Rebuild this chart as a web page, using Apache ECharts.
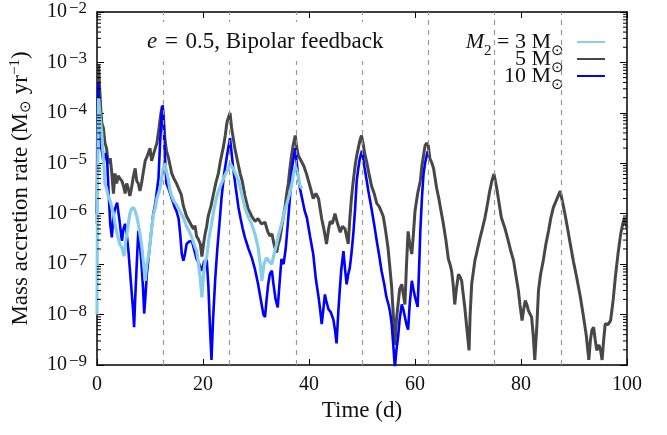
<!DOCTYPE html>
<html><head><meta charset="utf-8">
<script src="https://cdn.jsdelivr.net/npm/echarts@6/dist/echarts.min.js"></script>
<style>html,body{margin:0;padding:0;background:#fff}#c{width:667px;height:435px}</style>
</head><body><div id="c"></div>
<script>
// periastron passages (dashed lines)
const periastron = [12.5, 25, 37.5, 50, 62.5, 75, 87.5];
// log-axis minor tick values are multiples 2..9 of each decade
const decades = [-9, -8, -7, -6, -5, -4, -3];
const minorMult = [2, 3, 4, 5, 6, 7, 8, 9];
// series: [time (d), log10 accretion rate]
const m5 = [[0,-6.0],[0.15,-3.4],[0.3,-3.05],[0.5,-3.5],[0.7,-3.9],[0.9,-4.2],[1.2,-4.3],[1.5,-4.6],[1.8,-4.7],[2.1,-5.0],[2.5,-4.9],[2.8,-5.2],[3.1,-5.6],[3.4,-5.2],[3.7,-5.4],[4.0,-5.25],[4.3,-5.3],[4.7,-5.35],[5.0,-5.45],[5.3,-5.6],[5.6,-5.4],[5.9,-5.5],[6.2,-5.65],[6.5,-5.5],[6.8,-5.3],[7.2,-5.1],[7.5,-5.35],[7.8,-5.4],[8.1,-5.55],[8.4,-5.4],[8.7,-5.2],[9.1,-4.95],[9.5,-4.85],[10,-4.7],[10.3,-4.95],[10.6,-4.95],[11.0,-4.7],[11.3,-4.6],[11.7,-4.3],[12.0,-4.05],[12.3,-3.87],[12.5,-4.0],[12.8,-4.5],[13.1,-4.75],[13.5,-4.9],[13.8,-5.05],[14.1,-5.2],[14.5,-5.3],[15.0,-5.4],[15.4,-5.5],[15.9,-5.62],[16.3,-5.85],[16.9,-6.05],[17.4,-6.15],[17.9,-6.25],[18.2,-6.3],[18.5,-6.24],[18.8,-6.45],[19.1,-6.5],[19.5,-6.6],[19.8,-6.85],[20.1,-6.6],[20.4,-6.4],[20.7,-6.25],[21.0,-6.04],[21.5,-5.85],[22,-5.6],[22.4,-5.4],[22.9,-5.2],[23.3,-4.95],[23.8,-4.7],[24.2,-4.45],[24.5,-4.2],[24.8,-4.09],[25.1,-4.0],[25.4,-4.3],[25.7,-4.5],[26,-4.7],[26.5,-4.95],[27,-5.2],[27.4,-5.35],[27.9,-5.64],[28.5,-5.9],[29.2,-6.05],[29.8,-6.15],[30.4,-6.1],[31.0,-6.2],[31.7,-6.17],[32.2,-6.35],[32.6,-6.44],[33.0,-6.4],[33.5,-6.65],[33.9,-6.77],[34.2,-6.6],[34.5,-6.5],[34.8,-6.3],[35.1,-6.1],[35.5,-5.85],[35.8,-5.6],[36.1,-5.4],[36.4,-5.1],[36.7,-4.85],[37.0,-4.65],[37.4,-4.45],[37.7,-4.7],[38,-4.85],[38.5,-4.95],[39,-5.05],[39.5,-5.2],[39.9,-5.35],[40.3,-5.5],[40.8,-5.7],[41.3,-5.6],[41.8,-5.7],[42.1,-5.9],[42.4,-6.1],[42.8,-6.3],[43.3,-6.6],[43.7,-6.3],[44.0,-6.15],[44.4,-6.2],[44.9,-6.0],[45.4,-6.2],[45.9,-6.37],[46.3,-6.25],[46.8,-6.3],[47.1,-6.45],[47.4,-6.6],[47.7,-6.1],[48.0,-5.7],[48.3,-5.4],[48.7,-5.05],[49.0,-4.85],[49.3,-4.7],[49.6,-4.55],[49.9,-4.45],[50.2,-4.6],[50.5,-4.8],[50.9,-4.98],[51.3,-5.2],[51.8,-5.45],[52.3,-5.6],[52.8,-5.8],[53.2,-5.85],[53.7,-5.97],[54.0,-6.05],[54.4,-6.3],[54.9,-6.67],[55.2,-7.0],[55.6,-7.46],[55.9,-8.0],[56.2,-8.6],[56.5,-8.1],[56.8,-7.8],[57.1,-7.5],[57.5,-7.4],[57.8,-7.6],[58.1,-7.8],[58.4,-7.0],[58.7,-6.35],[59.0,-6.6],[59.4,-6.8],[59.7,-6.4],[60.0,-5.95],[60.5,-5.6],[61.0,-5.35],[61.3,-5.05],[61.6,-4.85],[61.9,-4.65],[62.2,-4.6],[62.5,-4.65],[62.8,-4.9],[63.2,-5.0],[63.5,-5.1],[63.8,-5.3],[64.1,-5.5],[64.5,-5.7],[64.8,-5.88],[65.3,-6.17],[65.8,-6.5],[66.3,-6.9],[66.6,-7.0],[66.9,-7.13],[67.2,-7.4],[67.5,-7.8],[67.8,-7.5],[68.2,-7.2],[68.5,-7.25],[68.8,-7.33],[69.1,-7.6],[69.4,-7.86],[69.8,-8.3],[70.2,-8.71],[70.4,-8.0],[70.7,-7.39],[71.3,-6.93],[71.8,-6.7],[72.3,-6.47],[72.7,-6.3],[73.2,-6.08],[73.6,-5.85],[74.1,-5.55],[74.5,-5.35],[74.9,-5.21],[75.4,-5.48],[75.8,-5.75],[76.3,-6.08],[77.0,-6.3],[77.6,-6.54],[78.1,-6.75],[78.6,-6.93],[79.0,-7.2],[79.5,-7.52],[79.8,-7.8],[80.2,-8.12],[80.5,-7.9],[80.8,-7.72],[81.1,-7.8],[81.4,-7.92],[82.0,-8.05],[82.3,-8.4],[82.6,-8.9],[83.0,-8.2],[83.3,-7.52],[83.7,-7.2],[84.2,-6.93],[84.7,-6.6],[85.2,-6.34],[85.6,-6.1],[86.1,-5.88],[86.8,-5.7],[87.4,-5.55],[87.8,-5.75],[88.3,-6.01],[88.8,-6.3],[89.3,-6.6],[89.9,-6.95],[90.5,-7.26],[91.2,-7.65],[91.8,-8.05],[92.3,-8.4],[92.8,-8.9],[93.1,-8.5],[93.4,-8.3],[93.7,-8.25],[94.0,-8.5],[94.3,-8.71],[94.7,-8.6],[95.0,-8.7],[95.3,-8.9],[95.6,-8.5],[95.9,-8.18],[96.4,-8.2],[96.9,-8.12],[97.4,-7.7],[97.8,-7.26],[98.3,-6.8],[98.8,-6.41],[99.2,-6.2],[99.5,-6.08],[99.8,-6.2],[100,-6.28]];
const m10 = [[0,-6.2],[0.1,-4.5],[0.25,-3.4],[0.45,-4.0],[0.6,-4.5],[0.9,-4.75],[1.25,-5.0],[1.6,-4.8],[1.9,-4.9],[2.2,-5.6],[2.5,-6.2],[2.8,-6.47],[3.1,-6.04],[3.4,-5.9],[3.8,-5.78],[4.2,-6.1],[4.7,-6.54],[5.0,-6.3],[5.3,-6.2],[5.6,-6.4],[5.9,-6.7],[6.2,-7.1],[6.5,-7.5],[6.8,-7.9],[7.0,-8.25],[7.2,-7.7],[7.5,-7.0],[7.8,-6.34],[8.1,-6.6],[8.4,-7.0],[8.7,-7.5],[8.9,-7.98],[9.1,-7.7],[9.4,-7.2],[9.7,-6.9],[10.0,-6.6],[10.3,-6.3],[10.6,-6.01],[11.0,-5.8],[11.3,-5.55],[11.6,-5.3],[11.9,-4.6],[12.2,-3.99],[12.4,-3.85],[12.6,-4.3],[12.8,-4.85],[13.1,-5.4],[13.5,-5.5],[13.8,-5.6],[14.1,-5.7],[14.7,-5.88],[15,-5.95],[15.4,-6.1],[15.7,-6.4],[16.0,-6.8],[16.3,-6.93],[16.6,-6.8],[16.9,-6.6],[17.4,-6.55],[17.9,-6.54],[18.3,-6.7],[18.8,-6.9],[19.3,-7.0],[19.8,-7.13],[20.2,-6.95],[20.7,-6.9],[21.0,-7.4],[21.3,-8.2],[21.6,-8.9],[21.9,-8.1],[22.3,-7.3],[22.7,-6.7],[23.1,-6.2],[23.5,-5.68],[24.0,-5.2],[24.6,-4.8],[25.1,-4.5],[25.4,-4.8],[25.7,-5.1],[26.2,-5.5],[26.7,-5.88],[27.1,-6.1],[27.5,-6.3],[27.9,-6.47],[28.6,-6.7],[29.2,-6.87],[29.8,-7.1],[30.4,-7.4],[30.9,-7.7],[31.4,-8.0],[31.7,-8.05],[32.0,-7.7],[32.3,-7.4],[32.6,-7.2],[33.0,-7.13],[33.3,-7.4],[33.7,-7.7],[34.1,-7.86],[34.5,-7.3],[34.8,-6.9],[35.2,-7.0],[35.6,-6.7],[36.0,-6.2],[36.4,-5.68],[36.7,-5.18],[37.0,-4.95],[37.4,-4.7],[37.7,-5.0],[38.0,-5.3],[38.3,-5.5],[38.8,-5.75],[39.2,-5.95],[39.6,-6.08],[40.2,-6.45],[40.8,-6.8],[41.3,-7.3],[41.8,-7.65],[42.1,-7.9],[42.4,-8.19],[42.7,-7.9],[43.0,-7.6],[43.3,-7.75],[43.7,-7.9],[44.1,-7.95],[44.6,-8.1],[44.9,-8.3],[45.2,-8.57],[45.5,-8.0],[45.8,-7.52],[46.1,-7.1],[46.5,-6.74],[46.8,-7.1],[47.1,-7.4],[47.4,-7.2],[47.7,-7.07],[48.0,-6.8],[48.4,-6.35],[48.7,-5.9],[49.0,-5.35],[49.3,-5.1],[49.6,-4.9],[50.0,-4.75],[50.5,-5.1],[50.9,-5.35],[51.2,-5.55],[51.8,-5.9],[52.4,-6.28],[52.8,-6.55],[53.2,-6.8],[53.7,-7.14],[54.2,-7.4],[54.6,-7.65],[55.0,-7.8],[55.3,-7.95],[55.6,-8.19],[55.9,-8.6],[56.2,-9.05],[56.5,-8.7],[56.8,-8.45],[57.1,-8.1],[57.5,-7.8],[57.8,-7.9],[58.1,-8.05],[58.4,-8.2],[58.7,-8.3],[59.0,-7.8],[59.4,-7.33],[59.7,-7.5],[60.0,-7.65],[60.5,-7.85],[60.8,-7.0],[61.0,-6.35],[61.3,-5.7],[61.6,-5.22],[61.9,-5.0],[62.2,-4.85],[62.4,-4.76]];
const m3 = [[0,-8.0],[0.1,-5.5],[0.3,-3.7],[0.6,-4.1],[0.9,-4.4],[1.2,-4.9],[1.5,-5.4],[1.8,-5.5],[2.1,-5.64],[2.5,-5.75],[2.8,-5.88],[3.1,-6.0],[3.4,-6.2],[3.8,-6.4],[4.3,-6.6],[4.8,-6.7],[5.1,-6.84],[5.4,-6.55],[5.9,-6.21],[6.2,-6.0],[6.5,-5.9],[6.9,-5.88],[7.2,-5.95],[7.5,-6.05],[7.8,-6.21],[8.1,-6.4],[8.4,-6.6],[8.7,-6.9],[9.1,-7.33],[9.4,-7.0],[9.7,-6.84],[10.0,-6.6],[10.3,-6.3],[10.6,-6.05],[11.0,-5.88],[11.3,-5.7],[11.6,-5.6],[11.9,-5.5],[12.2,-5.3],[12.5,-5.1],[12.8,-5.0],[13.1,-5.15],[13.5,-5.35],[13.8,-5.55],[14.1,-5.65],[14.5,-5.75],[15,-5.82],[15.4,-5.9],[15.9,-6.0],[16.3,-6.08],[16.9,-6.25],[17.4,-6.35],[17.9,-6.47],[18.3,-6.6],[18.8,-6.74],[19.1,-6.95],[19.5,-7.3],[19.8,-7.66],[20.1,-7.2],[20.4,-6.95],[20.7,-6.87],[21.1,-6.5],[21.6,-6.21],[22.1,-5.9],[22.5,-5.7],[22.9,-5.55],[23.5,-5.4],[24.2,-5.22],[24.8,-5.1],[25.1,-5.0],[25.4,-5.03],[25.9,-5.15],[26.3,-5.25],[26.7,-5.35],[27.3,-5.6],[27.9,-5.88],[28.5,-6.05],[29.2,-6.21],[29.8,-6.4],[30.4,-6.67],[30.8,-7.0],[31.1,-7.33],[31.5,-7.0],[32.0,-6.87],[32.5,-6.95],[33.0,-7.0],[33.4,-6.8],[33.9,-6.6],[34.3,-6.4],[34.8,-6.21],[35.4,-5.95],[36.1,-5.7],[36.7,-5.45],[37.1,-5.2],[37.4,-5.05],[37.7,-5.15],[38.0,-5.25],[38.3,-5.45],[38.7,-5.5]];

const FONT = '"Liberation Serif", serif';
const toXY = arr => arr.map(p => [p[0], Math.pow(10, p[1])]);
const minorVals = [];
decades.forEach(d => minorMult.forEach(m => minorVals.push([0, m * Math.pow(10, d)])));

const names = { m3: 'M2 = 3 Msun', m5: '5 Msun', m10: '10 Msun' };
const legendFmt = {
  [names.m3]: '{i|M}{s|2}{r| = 3 M}{s|⊙}',
  [names.m5]: '{r|5 M}{s|⊙}',
  [names.m10]: '{r|10 M}{s|⊙}'
};

const chart = echarts.init(document.getElementById('c'), null, { renderer: 'canvas' });
const lineBase = { type: 'line', showSymbol: false, symbol: 'none', animation: false, xAxisIndex: 0, yAxisIndex: 0 };
chart.setOption({
  animation: false,
  backgroundColor: '#fff',
  grid: { left: 97, right: 40, top: 10, bottom: 70 },
  xAxis: [
    { type: 'value', min: 0, max: 100, interval: 20,
      name: 'Time (d)', nameLocation: 'middle', nameGap: 33,
      nameTextStyle: { fontFamily: FONT, fontSize: 23, color: '#111' },
      axisLine: { show: true, onZero: false, lineStyle: { color: '#000', width: 1.5 } },
      axisTick: { inside: true, length: 6, lineStyle: { color: '#000' } },
      axisLabel: { fontFamily: FONT, fontSize: 20, color: '#111', margin: 10 },
      splitLine: { show: false } },
    { type: 'value', min: 0, max: 100, interval: 20, position: 'top',
      axisLine: { show: true, onZero: false, lineStyle: { color: '#000', width: 1.5 } },
      axisTick: { inside: true, length: 6, lineStyle: { color: '#000' } },
      axisLabel: { show: false }, splitLine: { show: false } }
  ],
  yAxis: [
    { type: 'log', logBase: 10, min: 1e-9, max: 1e-2, splitNumber: 7,
      name: '{r|Mass accretion rate (M}{s|⊙}{r| yr}{p|−1}{r|)}', nameLocation: 'middle', nameGap: 63,
      nameTextStyle: { fontFamily: FONT, color: '#111',
        rich: { r: { fontFamily: FONT, fontSize: 23, color: '#111', lineHeight: 26 },
                s: { fontFamily: FONT, fontSize: 15, color: '#111', verticalAlign: 'bottom', lineHeight: 12 },
                p: { fontFamily: FONT, fontSize: 15, color: '#111', verticalAlign: 'top', lineHeight: 14 } } },
      axisLine: { show: true, onZero: false, lineStyle: { color: '#000', width: 1.5 } },
      axisTick: { inside: true, length: 7, lineStyle: { color: '#000' } },
      axisLabel: { margin: 10, color: '#111',
        formatter: v => '{b|10}{e|−' + Math.round(-Math.log10(v)) + '}',
        rich: { b: { fontFamily: FONT, fontSize: 20, color: '#111', lineHeight: 24 },
                e: { fontFamily: FONT, fontSize: 17, color: '#111', verticalAlign: 'top', lineHeight: 14, padding: [0, 0, 0, 2] } } },
      splitLine: { show: false } },
    { type: 'log', logBase: 10, min: 1e-9, max: 1e-2, splitNumber: 7, position: 'right',
      axisLine: { show: true, onZero: false, lineStyle: { color: '#000', width: 1.5 } },
      axisTick: { inside: true, length: 7, lineStyle: { color: '#000' } },
      axisLabel: { show: false }, splitLine: { show: false } }
  ],
  legend: {
    data: [names.m3, names.m5, names.m10],
    orient: 'vertical', align: 'right', right: 60, top: 29,
    itemGap: -11, itemWidth: 28, itemHeight: 2, icon: 'rect',
    backgroundColor: '#fff', padding: [2, 2, 10, 6],
    formatter: n => legendFmt[n],
    textStyle: { width: 118, align: 'right', fontFamily: FONT, color: '#111', lineHeight: 18, padding: [0, 8, 0, 0],
      rich: { r: { fontFamily: FONT, fontSize: 22, color: '#111', lineHeight: 18 },
              i: { fontFamily: FONT, fontSize: 22, fontStyle: 'italic', color: '#111', lineHeight: 18 },
              s: { fontFamily: FONT, fontSize: 15, color: '#111', verticalAlign: 'bottom', lineHeight: 10, padding: [0, 0, -8, 0] } } }
  },
  graphic: [{
    type: 'text', left: 141, top: 22, z: 10,
    style: { text: '{i|e}\u2004=\u20040.5, Bipolar feedback', fill: '#111', font: '23px ' + FONT,
      backgroundColor: '#fff', padding: [8, 6, 8, 6],
      rich: { i: { fontStyle: 'italic', fontFamily: FONT, fontSize: 23 } } }
  }],
  series: [
    { type: 'line', data: [], z: 1, animation: false,
      markLine: { symbol: 'none', silent: true, label: { show: false },
        lineStyle: { color: '#999', type: [5, 5], width: 1.2 },
        data: periastron.map(v => ({ xAxis: v })) } },
    { type: 'custom', coordinateSystem: 'cartesian2d', data: minorVals, silent: true, z: 5,
      renderItem: (params, api) => {
        const p = api.coord([0, api.value(1)]);
        const q = api.coord([100, api.value(1)]);
        return { type: 'group', children: [
          { type: 'line', shape: { x1: p[0], y1: p[1], x2: p[0] + 4, y2: p[1] }, style: { stroke: '#000', lineWidth: 1 } },
          { type: 'line', shape: { x1: q[0], y1: q[1], x2: q[0] - 4, y2: q[1] }, style: { stroke: '#000', lineWidth: 1 } }
        ] };
      } },
    Object.assign({}, lineBase, { name: names.m5, data: toXY(m5), z: 2, color: '#474747', lineStyle: { color: '#474747', width: 3 } }),
    Object.assign({}, lineBase, { name: names.m10, data: toXY(m10), z: 3, color: '#0000ff', lineStyle: { color: '#0000ff', width: 2.6 } }),
    Object.assign({}, lineBase, { name: names.m3, data: toXY(m3), z: 4, color: '#87ceeb', lineStyle: { color: '#87ceeb', width: 3.2 } })
  ]
});
</script>
</body></html>
